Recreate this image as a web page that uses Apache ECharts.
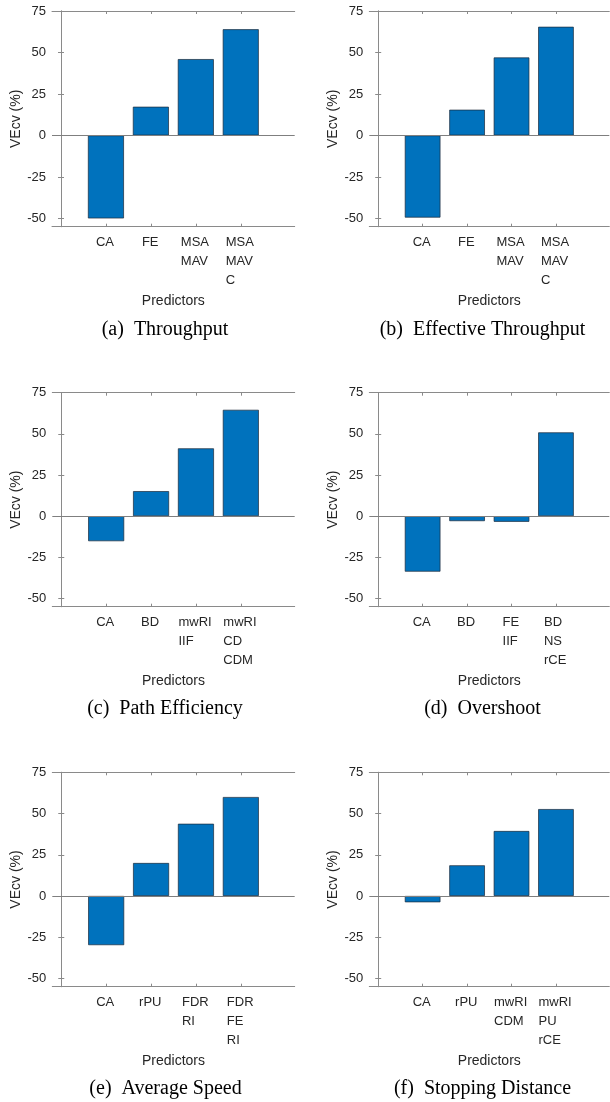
<!DOCTYPE html>
<html><head><meta charset="utf-8">
<script src="https://cdn.jsdelivr.net/npm/echarts@6/dist/echarts.min.js"></script>
<style>html,body{margin:0;padding:0;background:#fff}#c{width:610px;height:1102px}</style>
</head><body><div id="c"></div>
<script>
// ---- data ----
const yTicks = [-50, -25, 0, 25, 50, 75];
const catsA = ['CA', 'FE', 'MSA\nMAV', 'MSA\nMAV\nC'];
const valsA = [-50, 17.3, 46, 64];
const catsB = ['CA', 'FE', 'MSA\nMAV', 'MSA\nMAV\nC'];
const valsB = [-49.5, 15.5, 47, 65.5];
const catsC = ['CA', 'BD', 'mwRI\nIIF', 'mwRI\nCD\nCDM'];
const valsC = [-15.2, 15.2, 41.2, 64.6];
const catsD = ['CA', 'BD', 'FE\nIIF', 'BD\nNS\nrCE'];
const valsD = [-33.7, -3, -3.4, 50.9];
const catsE = ['CA', 'rPU', 'FDR\nRI', 'FDR\nFE\nRI'];
const valsE = [-29.8, 20, 43.8, 60];
const catsF = ['CA', 'rPU', 'mwRI\nCDM', 'mwRI\nPU\nrCE'];
const valsF = [-3.8, 18.6, 39.4, 52.7];
const captions = ['(a)  Throughput', '(b)  Effective Throughput', '(c)  Path Efficiency',
                  '(d)  Overshoot', '(e)  Average Speed', '(f)  Stopping Distance'];
const yName = 'VEcv (%)';
const xName = 'Predictors';

// ---- layout ----
const layout = [
  {box: [52, 11, 242.7, 215.7], barW: 36, cap: [165, 329.5]},
  {box: [369.3, 11, 240, 215.7], barW: 35.6, cap: [482.5, 329.5]},
  {box: [52.3, 392.7, 242.4, 214], barW: 36, cap: [165, 709]},
  {box: [369.3, 392.7, 240, 214], barW: 35.6, cap: [482.5, 709]},
  {box: [52.3, 772.3, 242.4, 214.4], barW: 36, cap: [165.5, 1089]},
  {box: [369.3, 772.3, 240, 214.4], barW: 35.6, cap: [482.5, 1089]}
];
const cats = [catsA, catsB, catsC, catsD, catsE, catsF];
const vals = [valsA, valsB, valsC, valsD, valsE, valsF];

const SANS = '"Liberation Sans", Arial, sans-serif';
const SERIF = '"Liberation Serif", "Times New Roman", serif';
const axisColor = '#8a8a8a';
const textColor = '#262626';
const ctx = document.createElement('canvas').getContext('2d');
ctx.font = '13px ' + SANS;
function maxLineW(s) { return Math.max.apply(null, s.split('\n').map(l => ctx.measureText(l).width)); }

const chart = echarts.init(document.getElementById('c'));
const option = {animation: false, grid: [], xAxis: [], yAxis: [], series: [], graphic: []};

cats.forEach((cs, i) => {
  const L = layout[i];
  option.grid.push({left: L.box[0], top: L.box[1], width: L.box[2], height: L.box[3]});
  const rich = {};
  cs.forEach((c, k) => {
    rich['c' + k] = {width: Math.ceil(maxLineW(c)) + 1, align: 'left', fontSize: 13,
      lineHeight: 19, fontFamily: SANS, color: textColor};
  });
  const pos = cs.map((c, k) => k + 1);
  const xCommon = {type: 'value', min: -0.2, max: 5.2, gridIndex: i,
    axisLine: {show: true, onZero: false, lineStyle: {color: axisColor, width: 1}},
    splitLine: {show: false},
    axisTick: {show: true, inside: true, length: 3, customValues: pos, lineStyle: {color: axisColor}}};
  option.xAxis.push(Object.assign({}, xCommon, {
    position: 'bottom',
    axisLabel: {show: true, customValues: pos, margin: 6, fontSize: 13, lineHeight: 19,
      color: textColor, fontFamily: SANS, rich: rich,
      formatter: v => { const k = Math.round(v) - 1; return cs[k].split('\n').map(l => '{c' + k + '|' + l + '}').join('\n'); }},
    name: xName, nameLocation: 'middle', nameGap: 67,
    nameTextStyle: {fontSize: 14, color: textColor, fontFamily: SANS}
  }));
  option.xAxis.push(Object.assign({}, xCommon, {position: 'top', axisLabel: {show: false}}));
  const yCommon = {type: 'value', min: -55, max: 75, gridIndex: i,
    axisLine: {show: true, lineStyle: {color: axisColor, width: 1}},
    splitLine: {show: false},
    axisTick: {show: true, inside: true, length: 3, customValues: yTicks, lineStyle: {color: axisColor}}};
  option.yAxis.push(Object.assign({}, yCommon, {
    position: 'left',
    axisLabel: {show: true, customValues: yTicks, margin: 6, fontSize: 13, color: textColor, fontFamily: SANS},
    name: yName, nameLocation: 'middle', nameGap: 27.5, nameRotate: 90,
    nameTextStyle: {fontSize: 14, color: textColor, fontFamily: SANS}
  }));
  option.yAxis.push(Object.assign({}, yCommon, {position: 'right', axisLabel: {show: false}}));
  option.series.push({
    type: 'bar', xAxisIndex: 2 * i, yAxisIndex: 2 * i,
    data: vals[i].map((v, k) => [k + 1, v]),
    barWidth: L.barW,
    itemStyle: {color: '#0072BD', borderColor: '#1b2a3a', borderWidth: 0.7},
    markLine: {silent: true, symbol: ['none', 'none'], label: {show: false},
      lineStyle: {color: '#7f7f7f', width: 1, type: 'solid'}, data: [{yAxis: 0}]}
  });
  option.graphic.push({type: 'text', x: L.cap[0], y: L.cap[1],
    style: {text: captions[i], font: '20px ' + SERIF, fill: '#000', align: 'center', verticalAlign: 'middle'}});
});
chart.setOption(option);
</script>
</body></html>
